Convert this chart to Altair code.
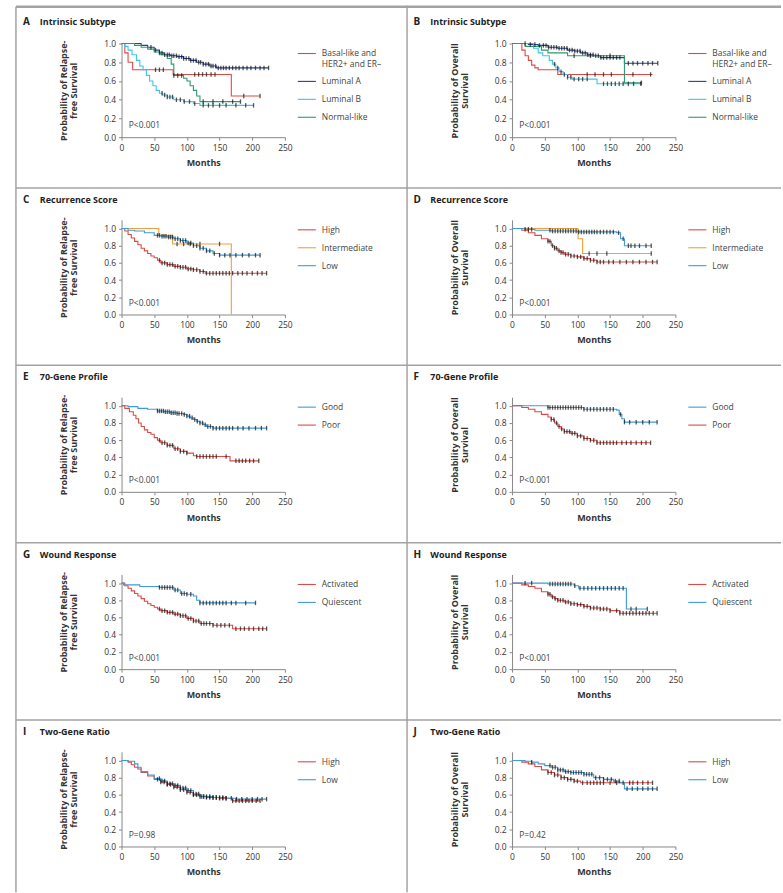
import altair as alt
import pandas as pd

FONT = "Open Sans"
RED = "#dc4a46"
ORANGE = "#f0a03a"
BLUE = "#3f9bd6"
NAVY = "#27408f"
CYAN = "#3ec4ea"
GREEN = "#2f9a70"
FRAME = "#a3a3a3"

# ---------------- Panel A: RFS, intrinsic subtype ----------------
A_basal_t = [0, 5, 10, 17, 79, 168, 212]
A_basal_s = [1.0, 0.9, 0.8, 0.72, 0.67, 0.44, 0.44]
A_basal_c = [52, 58, 64, 112, 118, 124, 130, 137, 143, 187, 212]
A_lumA_t = [0, 30, 40, 50, 58, 65, 75, 85, 95, 105, 115, 125, 135, 145, 225]
A_lumA_s = [1.0, 0.98, 0.96, 0.93, 0.9, 0.88, 0.87, 0.86, 0.84, 0.82, 0.8, 0.78, 0.76, 0.74, 0.74]
A_lumA_c = [45, 52, 58, 62, 66, 70, 73, 77, 80, 84, 88, 92, 95, 99, 103, 106, 110, 114, 118, 121,
            125, 129, 133, 137, 140, 144, 148, 152, 156, 160, 165, 170, 175, 180, 186, 192, 198, 205,
            212, 218, 225]
A_lumB_t = [0, 5, 10, 16, 23, 28, 33, 38, 43, 48, 53, 58, 63, 70, 80, 95, 110, 120, 202]
A_lumB_s = [1.0, 0.97, 0.93, 0.88, 0.82, 0.76, 0.72, 0.66, 0.6, 0.55, 0.5, 0.47, 0.45, 0.43, 0.4,
            0.38, 0.36, 0.34, 0.34]
A_lumB_c = [62, 66, 70, 74, 78, 84, 90, 96, 104, 112, 125, 133, 140, 150, 160, 175, 190, 202]
A_norm_t = [0, 20, 30, 40, 50, 60, 70, 76, 80, 95, 100, 105, 110, 115, 120, 182]
A_norm_s = [1.0, 0.98, 0.96, 0.94, 0.91, 0.88, 0.84, 0.78, 0.66, 0.63, 0.6, 0.55, 0.5, 0.44, 0.38, 0.38]
A_norm_c = [80, 86, 92, 125, 140, 155, 170, 182]

# ---------------- Panel B: OS, intrinsic subtype ----------------
B_basal_t = [0, 15, 20, 25, 30, 35, 40, 70, 215]
B_basal_s = [1.0, 0.93, 0.87, 0.82, 0.77, 0.74, 0.72, 0.67, 0.67]
B_basal_c = [115, 127, 140, 152, 185, 212]
B_lumA_t = [0, 25, 40, 55, 70, 85, 95, 105, 115, 125, 135, 172, 223]
B_lumA_s = [1.0, 0.99, 0.98, 0.96, 0.95, 0.93, 0.92, 0.9, 0.88, 0.87, 0.85, 0.79, 0.79]
B_lumA_c = [20, 28, 35, 42, 48, 52, 56, 60, 64, 68, 72, 76, 80, 84, 88, 92, 96, 100, 104, 108, 112,
            116, 120, 124, 128, 132, 136, 140, 145, 150, 155, 160, 165, 178, 185, 192, 200, 208, 215, 223]
B_lumB_t = [0, 33, 40, 47, 57, 62, 67, 72, 78, 85, 92, 130, 197]
B_lumB_s = [1.0, 0.95, 0.9, 0.87, 0.82, 0.78, 0.74, 0.7, 0.67, 0.64, 0.62, 0.57, 0.57]
B_lumB_c = [65, 70, 75, 80, 85, 90, 95, 102, 108, 115, 140, 146, 152, 158, 164, 170, 178, 186, 197]
B_norm_t = [0, 20, 45, 55, 85, 172, 198]
B_norm_s = [1.0, 0.97, 0.93, 0.9, 0.87, 0.58, 0.58]
B_norm_c = [95, 120, 150, 198]

# ---------------- Panel C: RFS, recurrence score ----------------
C_high_t = [0, 5, 10, 15, 20, 25, 30, 35, 40, 45, 50, 55, 60, 70, 80, 90, 100, 110, 120, 128, 222]
C_high_s = [1.0, 0.97, 0.93, 0.89, 0.85, 0.81, 0.77, 0.74, 0.71, 0.68, 0.66, 0.63, 0.6, 0.58, 0.56,
            0.55, 0.53, 0.52, 0.5, 0.48, 0.48]
C_high_c = [58, 62, 66, 70, 74, 78, 82, 86, 90, 94, 98, 102, 106, 110, 115, 120, 125, 130, 135, 140,
            145, 150, 155, 160, 165, 170, 178, 185, 192, 200, 208, 215, 222]
C_int_t = [0, 57, 78, 168]
C_int_s = [1.0, 0.92, 0.82, 0.0]
C_int_c = [85, 95, 105, 120, 150]
C_low_t = [0, 10, 20, 35, 50, 60, 70, 80, 90, 100, 110, 120, 130, 140, 150, 212]
C_low_s = [1.0, 0.98, 0.97, 0.95, 0.92, 0.91, 0.9, 0.88, 0.86, 0.83, 0.8, 0.77, 0.74, 0.71, 0.69, 0.69]
C_low_c = [55, 58, 62, 65, 68, 72, 75, 78, 82, 86, 90, 94, 98, 102, 106, 110, 115, 120, 125, 130, 135,
           142, 150, 158, 166, 175, 185, 195, 205, 212]

# ---------------- Panel D: OS, recurrence score ----------------
D_high_t = [0, 15, 25, 35, 45, 55, 60, 65, 70, 75, 80, 90, 100, 110, 120, 130, 222]
D_high_s = [1.0, 0.98, 0.95, 0.92, 0.88, 0.85, 0.8, 0.77, 0.74, 0.72, 0.7, 0.68, 0.67, 0.65, 0.63,
            0.61, 0.61]
D_high_c = [55, 58, 62, 65, 68, 72, 75, 78, 82, 86, 90, 95, 100, 105, 110, 115, 120, 125, 130, 135,
            140, 148, 155, 165, 175, 185, 195, 205, 215, 222]
D_int_t = [0, 101, 108, 213]
D_int_s = [1.0, 0.88, 0.71, 0.71]
D_int_c = [118, 130, 145, 213]
D_low_t = [0, 20, 35, 60, 100, 160, 166, 172, 213]
D_low_s = [1.0, 0.99, 0.98, 0.97, 0.96, 0.95, 0.88, 0.8, 0.8]
D_low_c = [20, 25, 30, 58, 62, 66, 70, 74, 78, 82, 86, 90, 94, 98, 102, 106, 110, 114, 118, 122, 126,
           130, 135, 140, 145, 150, 155, 163, 170, 178, 182, 188, 195, 205, 213]

# ---------------- Panel E: RFS, 70-gene profile ----------------
E_good_t = [0, 10, 25, 40, 55, 65, 75, 85, 95, 100, 105, 110, 115, 120, 125, 130, 140, 222]
E_good_s = [1.0, 0.99, 0.97, 0.96, 0.94, 0.93, 0.92, 0.91, 0.9, 0.88, 0.86, 0.84, 0.82, 0.8, 0.78,
            0.76, 0.74, 0.74]
E_good_c = [55, 58, 61, 64, 67, 70, 73, 76, 79, 82, 85, 88, 92, 96, 100, 104, 108, 112, 116, 120, 124,
            128, 132, 136, 140, 145, 150, 155, 160, 165, 170, 178, 186, 195, 205, 214, 222]
E_poor_t = [0, 5, 12, 18, 22, 26, 30, 35, 40, 45, 50, 55, 60, 70, 80, 90, 100, 110, 115, 166, 210]
E_poor_s = [1.0, 0.97, 0.93, 0.89, 0.85, 0.8, 0.76, 0.72, 0.69, 0.67, 0.63, 0.6, 0.57, 0.54, 0.5,
            0.47, 0.45, 0.42, 0.41, 0.36, 0.36]
E_poor_c = [58, 62, 66, 70, 74, 78, 82, 86, 90, 95, 100, 115, 120, 125, 130, 135, 140, 145, 160, 175,
            180, 185, 190, 196, 202, 210]

# ---------------- Panel F: OS, 70-gene profile ----------------
F_good_t = [0, 55, 110, 160, 164, 168, 172, 222]
F_good_s = [1.0, 0.98, 0.96, 0.95, 0.9, 0.85, 0.81, 0.81]
F_good_c = [55, 58, 62, 66, 70, 74, 78, 82, 86, 90, 94, 98, 102, 106, 110, 115, 120, 125, 130, 135,
            140, 145, 150, 155, 166, 172, 180, 190, 200, 210, 222]
F_poor_t = [0, 15, 25, 35, 45, 55, 60, 65, 70, 75, 80, 90, 100, 110, 120, 130, 212]
F_poor_s = [1.0, 0.98, 0.96, 0.93, 0.9, 0.87, 0.84, 0.8, 0.76, 0.73, 0.7, 0.68, 0.65, 0.62, 0.6,
            0.57, 0.57]
F_poor_c = [60, 64, 68, 72, 76, 80, 84, 88, 92, 96, 100, 105, 110, 115, 120, 125, 130, 135, 140, 145,
            150, 155, 160, 168, 175, 182, 190, 198, 205, 212]

# ---------------- Panel G: RFS, wound response ----------------
G_quie_t = [0, 3, 28, 58, 80, 90, 100, 110, 115, 120, 205]
G_quie_s = [1.0, 0.98, 0.96, 0.95, 0.92, 0.88, 0.87, 0.85, 0.8, 0.77, 0.77]
G_quie_c = [58, 62, 66, 70, 74, 78, 82, 86, 92, 96, 100, 106, 120, 125, 130, 135, 140, 145, 150, 155,
            160, 168, 175, 190, 205]
G_act_t = [0, 5, 10, 15, 20, 25, 30, 35, 40, 45, 50, 55, 60, 70, 80, 90, 100, 110, 120, 140, 170, 222]
G_act_s = [1.0, 0.97, 0.94, 0.91, 0.88, 0.85, 0.82, 0.79, 0.76, 0.74, 0.72, 0.7, 0.68, 0.66, 0.64,
           0.62, 0.59, 0.56, 0.53, 0.51, 0.47, 0.47]
G_act_c = [58, 62, 66, 70, 74, 78, 82, 86, 90, 94, 98, 102, 106, 110, 114, 118, 122, 126, 130, 135, 140,
           146, 152, 158, 165, 175, 182, 188, 195, 202, 210, 216, 222]

# ---------------- Panel H: OS, wound response ----------------
H_quie_t = [0, 55, 95, 102, 175, 207]
H_quie_s = [1.0, 0.99, 0.97, 0.94, 0.7, 0.7]
H_quie_c = [20, 30, 58, 62, 66, 70, 74, 78, 82, 86, 90, 96, 104, 110, 116, 122, 128, 134, 140, 146,
            152, 158, 164, 170, 182, 190, 207]
H_act_t = [0, 15, 25, 35, 45, 55, 60, 65, 70, 80, 90, 100, 110, 120, 135, 150, 165, 222]
H_act_s = [1.0, 0.98, 0.96, 0.94, 0.9, 0.87, 0.84, 0.82, 0.8, 0.78, 0.76, 0.75, 0.73, 0.71, 0.7,
           0.68, 0.65, 0.65]
H_act_c = [55, 58, 62, 66, 70, 74, 78, 82, 86, 90, 95, 100, 105, 110, 115, 120, 125, 130, 135, 140,
           145, 150, 160, 165, 170, 175, 180, 185, 190, 195, 200, 205, 210, 216, 222]

# ---------------- Panel I: RFS, two-gene ratio ----------------
I_high_t = [0, 10, 15, 20, 25, 30, 40, 50, 60, 70, 80, 90, 100, 110, 120, 130, 150, 170, 212]
I_high_s = [1.0, 0.98, 0.95, 0.92, 0.9, 0.86, 0.82, 0.78, 0.75, 0.72, 0.69, 0.66, 0.63, 0.6, 0.58,
            0.57, 0.56, 0.53, 0.53]
I_high_c = [55, 60, 65, 70, 75, 80, 85, 90, 95, 100, 105, 110, 115, 120, 125, 130, 135, 140, 145, 150,
            155, 160, 170, 175, 180, 185, 190, 195, 200, 206, 212]
I_low_t = [0, 10, 20, 25, 30, 40, 50, 60, 70, 80, 90, 100, 110, 120, 140, 160, 175, 222]
I_low_s = [1.0, 0.99, 0.96, 0.92, 0.87, 0.83, 0.79, 0.76, 0.73, 0.71, 0.68, 0.65, 0.61, 0.58, 0.57,
           0.56, 0.55, 0.55]
I_low_c = [58, 62, 66, 70, 74, 78, 82, 86, 90, 94, 98, 102, 106, 110, 114, 118, 122, 126, 130, 135, 140,
           145, 150, 155, 160, 168, 176, 184, 192, 200, 208, 215, 222]

# ---------------- Panel J: OS, two-gene ratio ----------------
J_high_t = [0, 15, 25, 35, 45, 55, 65, 75, 85, 95, 105, 215]
J_high_s = [1.0, 0.98, 0.96, 0.93, 0.89, 0.86, 0.83, 0.8, 0.78, 0.76, 0.74, 0.74]
J_high_c = [55, 60, 65, 70, 75, 80, 85, 90, 95, 100, 108, 115, 120, 125, 130, 135, 140, 150, 160, 170,
            180, 185, 192, 200, 208, 215]
J_low_t = [0, 20, 30, 40, 50, 60, 70, 80, 90, 110, 125, 140, 155, 165, 172, 222]
J_low_s = [1.0, 0.99, 0.98, 0.96, 0.94, 0.92, 0.89, 0.87, 0.86, 0.84, 0.8, 0.78, 0.76, 0.74, 0.67, 0.67]
J_low_c = [30, 58, 62, 66, 70, 74, 78, 82, 86, 90, 94, 98, 102, 106, 110, 114, 118, 122, 128, 134, 140,
           146, 152, 158, 164, 176, 184, 192, 200, 208, 215, 222]

RFS_TITLE = ["Probability of Relapse-", "free Survival"]
OS_TITLE = ["Probability of Overall", "Survival"]
X_TICKS = [0, 50, 100, 150, 200, 250]
Y_TICKS = [0.0, 0.2, 0.4, 0.6, 0.8, 1.0]


def step_value(t, s, x):
    v = s[0]
    for ti, si in zip(t, s):
        if ti <= x:
            v = si
        else:
            break
    return v


def make_panel(letter, title, ytitle, series, pval, row, col):
    top = row == 0
    h = 94 if top else 95
    names = [x[0] for x in series]
    colors = [x[1] for x in series]
    curve_rows, cens_rows = [], []
    for name, _, t, s, c in series:
        for ti, si in zip(t, s):
            curve_rows.append({"group": name, "t": ti, "s": si})
        for ci in c:
            cens_rows.append({"group": name, "t": ci, "s": step_value(t, s, ci)})
    curves = pd.DataFrame(curve_rows)
    cens = pd.DataFrame(cens_rows)

    xenc = alt.X("t:Q", scale=alt.Scale(domain=[0, 250], nice=False),
                 axis=alt.Axis(values=X_TICKS, title="Months", grid=False, format="d",
                               labelOverlap=False, tickCount=6))
    yenc = alt.Y("s:Q", scale=alt.Scale(domain=[0, 1.0 if top else 1.1], nice=False),
                 axis=alt.Axis(values=Y_TICKS, title=ytitle, grid=False, format=".1f",
                               labelOverlap=False, tickCount=6))

    lines = alt.Chart(curves).mark_line(interpolate="step-after", strokeWidth=1.1).encode(
        x=xenc, y=yenc,
        color=alt.Color("group:N", sort=names,
                        scale=alt.Scale(domain=names, range=colors),
                        legend=alt.Legend(title=None, orient="right", offset=12,
                                          symbolType="stroke", symbolSize=330,
                                          symbolStrokeWidth=1.1, labelFontSize=8.5,
                                          labelColor="#444", labelFont=FONT,
                                          labelExpr="split(datum.label, '|')",
                                          labelLimit=200, rowPadding=3, padding=0,
                                          labelOffset=5)),
    )
    ticks = alt.Chart(cens).mark_tick(color="#111", orient="vertical", size=4.5,
                                      thickness=1.3).encode(x=xenc, y=yenc)
    ptext = alt.Chart(pd.DataFrame({"t": [11], "s": [0.135], "label": [pval]})).mark_text(
        align="left", baseline="middle", fontSize=8.5, font=FONT, color="#444"
    ).encode(x=xenc, y=yenc, text="label:N")

    dummy = pd.DataFrame({"k": [0]})
    sep_y = -37 if top else -32
    title_y = -22 if top else -20
    bottom = 141 if row == 4 else h + 51
    x_right = 287 if col == 0 else 270
    decos = [
        alt.Chart(dummy).mark_rule(color=FRAME, strokeWidth=2.5 if top else 1.5).encode(
            x=alt.value(-106), x2=alt.value(x_right), y=alt.value(sep_y)),
        alt.Chart(dummy).mark_text(align="left", baseline="middle", font=FONT, fontSize=10,
                                   fontWeight="bold", color="#222").encode(
            x=alt.value(-99), y=alt.value(title_y), text=alt.value(letter)),
        alt.Chart(dummy).mark_text(align="left", baseline="middle", font=FONT, fontSize=9,
                                   fontWeight="bold", color="#222").encode(
            x=alt.value(-82), y=alt.value(title_y), text=alt.value(title)),
    ]
    if col == 0:
        decos.append(alt.Chart(dummy).mark_rule(color=FRAME, strokeWidth=1.5).encode(
            x=alt.value(-106), y=alt.value(sep_y), y2=alt.value(bottom)))
        decos.append(alt.Chart(dummy).mark_rule(color=FRAME, strokeWidth=1.5).encode(
            x=alt.value(286.6), y=alt.value(sep_y), y2=alt.value(bottom)))

    return alt.layer(*decos, lines, ticks, ptext).properties(width=164, height=h)


panels = [
    make_panel("A", "Intrinsic Subtype", RFS_TITLE, [
        ("Basal-like and|HER2+ and ER\u2013", RED, A_basal_t, A_basal_s, A_basal_c),
        ("Luminal A", NAVY, A_lumA_t, A_lumA_s, A_lumA_c),
        ("Luminal B", CYAN, A_lumB_t, A_lumB_s, A_lumB_c),
        ("Normal-like", GREEN, A_norm_t, A_norm_s, A_norm_c)], "P<0.001", 0, 0),
    make_panel("B", "Intrinsic Subtype", OS_TITLE, [
        ("Basal-like and|HER2+ and ER\u2013", RED, B_basal_t, B_basal_s, B_basal_c),
        ("Luminal A", NAVY, B_lumA_t, B_lumA_s, B_lumA_c),
        ("Luminal B", CYAN, B_lumB_t, B_lumB_s, B_lumB_c),
        ("Normal-like", GREEN, B_norm_t, B_norm_s, B_norm_c)], "P<0.001", 0, 1),
    make_panel("C", "Recurrence Score", RFS_TITLE, [
        ("High", RED, C_high_t, C_high_s, C_high_c),
        ("Intermediate", ORANGE, C_int_t, C_int_s, C_int_c),
        ("Low", BLUE, C_low_t, C_low_s, C_low_c)], "P<0.001", 1, 0),
    make_panel("D", "Recurrence Score", OS_TITLE, [
        ("High", RED, D_high_t, D_high_s, D_high_c),
        ("Intermediate", ORANGE, D_int_t, D_int_s, D_int_c),
        ("Low", BLUE, D_low_t, D_low_s, D_low_c)], "P<0.001", 1, 1),
    make_panel("E", "70-Gene Profile", RFS_TITLE, [
        ("Good", BLUE, E_good_t, E_good_s, E_good_c),
        ("Poor", RED, E_poor_t, E_poor_s, E_poor_c)], "P<0.001", 2, 0),
    make_panel("F", "70-Gene Profile", OS_TITLE, [
        ("Good", BLUE, F_good_t, F_good_s, F_good_c),
        ("Poor", RED, F_poor_t, F_poor_s, F_poor_c)], "P<0.001", 2, 1),
    make_panel("G", "Wound Response", RFS_TITLE, [
        ("Activated", RED, G_act_t, G_act_s, G_act_c),
        ("Quiescent", BLUE, G_quie_t, G_quie_s, G_quie_c)], "P<0.001", 3, 0),
    make_panel("H", "Wound Response", OS_TITLE, [
        ("Activated", RED, H_act_t, H_act_s, H_act_c),
        ("Quiescent", BLUE, H_quie_t, H_quie_s, H_quie_c)], "P<0.001", 3, 1),
    make_panel("I", "Two-Gene Ratio", RFS_TITLE, [
        ("High", RED, I_high_t, I_high_s, I_high_c),
        ("Low", BLUE, I_low_t, I_low_s, I_low_c)], "P=0.98", 4, 0),
    make_panel("J", "Two-Gene Ratio", OS_TITLE, [
        ("High", RED, J_high_t, J_high_s, J_high_c),
        ("Low", BLUE, J_low_t, J_low_s, J_low_c)], "P=0.42", 4, 1),
]

chart = alt.concat(
    *panels, columns=2, spacing=alt.RowColnumber(row=83, column=228), bounds="flush"
).resolve_scale(color="independent").properties(
    padding={"left": 14, "top": 3, "right": 0, "bottom": 0},
    background="white",
).configure_view(strokeWidth=0).configure_axis(
    labelFont=FONT, labelFontSize=8.5, labelColor="#333", domainColor="#888", tickColor="#888",
    tickSize=3, labelPadding=3, titleFont=FONT, titleFontSize=9, titleFontWeight="bold",
    titleColor="#333", domainWidth=1, tickWidth=1, labelOverlap=False,
).configure_axisY(
    titlePadding=25, titleLineHeight=10,
).configure_axisX(
    titlePadding=7, labelFlush=False,
)

chart.save("out.html", embed_options={"renderer": "svg", "actions": False})
